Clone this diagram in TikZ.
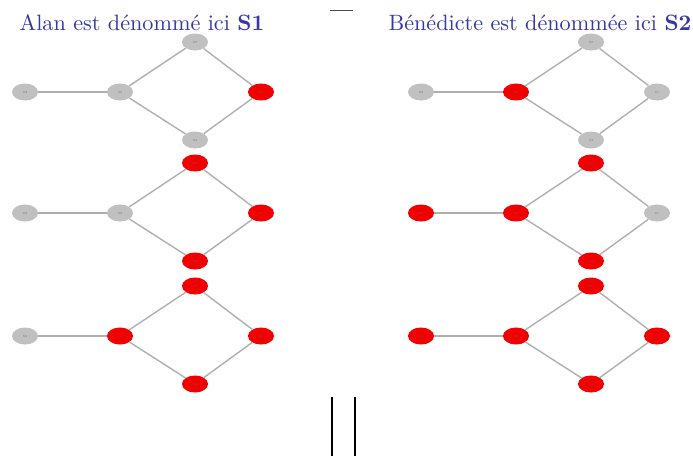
\documentclass[tikz,border=0pt]{standalone}
\usetikzlibrary{shapes.geometric}
\definecolor{titleblue}{RGB}{55,55,165}
\definecolor{nodegray}{RGB}{192,192,192}
\definecolor{nodered}{RGB}{240,0,0}
\definecolor{edgegray}{RGB}{175,175,175}
\tikzset{
  vert/.style={ellipse, minimum width=26pt, minimum height=17pt, inner sep=0pt,
     font=\fontsize{3}{3}\selectfont, text=black!60},
  g/.style={vert, fill=nodegray},
  r/.style={vert, fill=nodered},
  edge/.style={draw=edgegray, line width=1.4pt},
  ttl/.style={text=titleblue, font=\fontsize{10}{12}\selectfont, anchor=base, scale=2.22},
  rule/.style={line width=2pt, black}
}
% #1 prefix, #2 x, #3 y, #4..#8 styles of L M T R B
\newcommand\mygraphrow[8]{%
  \node[#4] (#1L) at (#2,#3) {S3};
  \node[#5] (#1M) at (#2+95,#3) {S2};
  \node[#6] (#1T) at (#2+170,#3-50) {S7};
  \node[#7] (#1R) at (#2+236,#3) {S1};
  \node[#8] (#1B) at (#2+170,#3+48) {S4};
  \draw[edge] (#1L) -- (#1M);
  \draw[edge] (#1M) -- (#1T);
  \draw[edge] (#1M) -- (#1B);
  \draw[edge] (#1T) -- (#1R);
  \draw[edge] (#1B) -- (#1R);
}
\begin{document}
\begin{tikzpicture}[x=1pt,y=-1pt]
\useasboundingbox (0,0) rectangle (693,456);
\node[ttl] (t1) at (142,30) {Alan est dénommé ici \textbf{S1}};
\node[ttl] (t2) at (540,30) {Bénédicte est dénommée ici \textbf{S2}};
\coordinate (h1) at (330,10);
\coordinate (h2) at (353,10);
\draw[black!70, line width=0.8pt] (h1) -- (h2);
\coordinate (v1a) at (331.5,397);
\coordinate (v1b) at (331.5,456);
\coordinate (v2a) at (354.5,397);
\coordinate (v2b) at (354.5,456);
\draw[rule] (v1a) -- (v1b);
\draw[rule] (v2a) -- (v2b);
% left panel
\mygraphrow{a}{25}{92}{g}{g}{g}{r}{g}
\mygraphrow{b}{25}{213}{g}{g}{r}{r}{r}
\mygraphrow{c}{25}{336}{g}{r}{r}{r}{r}
% right panel
\mygraphrow{d}{421}{92}{g}{r}{g}{g}{g}
\mygraphrow{e}{421}{213}{r}{r}{r}{g}{r}
\mygraphrow{f}{421}{336}{r}{r}{r}{r}{r}
\end{tikzpicture}
\end{document}
